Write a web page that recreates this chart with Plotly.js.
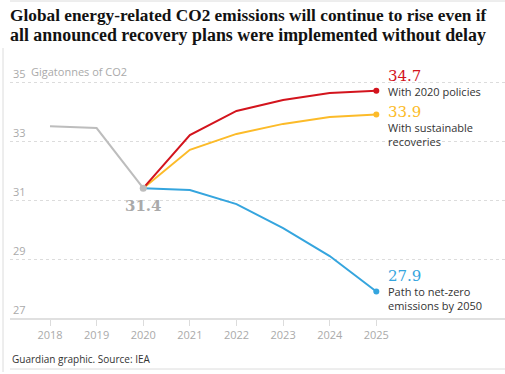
<!DOCTYPE html>
<html><head><meta charset="utf-8">
<script src="https://cdn.plot.ly/plotly-3.0.1.min.js"></script>
<style>html,body{margin:0;padding:0;background:#fff;}#chart{width:505px;height:374px;}</style>
</head><body><div id="chart"></div>
<script>
const historyYears = [2018, 2019, 2020];
const historyValues = [33.5, 33.44, 31.4];
const scenarioYears = [2020, 2021, 2022, 2023, 2024, 2025];
const policies2020 = [31.4, 33.2, 34.02, 34.39, 34.63, 34.7];
const sustainable = [31.4, 32.7, 33.24, 33.58, 33.81, 33.9];
const netZero = [31.4, 31.34, 30.86, 30.05, 29.1, 27.9];
const yTicks = [27, 29, 31, 33, 35];
const yTickText = ['27', '29', '31', '33', '35'];
const yUnit = 'Gigatonnes of CO2';
const xTicks = [2018, 2019, 2020, 2021, 2022, 2023, 2024, 2025];
const seriesLabels = ['With 2020 policies', 'With sustainable<br>recoveries', 'Path to net-zero<br>emissions by 2050'];
const titleLines = ['Global energy-related CO2 emissions will continue to rise even if',
                    'all announced recovery plans were implemented without delay'];

const RED = '#d3141d', YEL = '#fcbb29', BLU = '#35a5de', GRY = '#bdbdbd';
const last = a => a[a.length - 1];

const traces = [
  {x: historyYears, y: historyValues, mode: 'lines', line: {color: GRY, width: 2}},
  {x: scenarioYears, y: sustainable, mode: 'lines', line: {color: YEL, width: 2}},
  {x: scenarioYears, y: policies2020, mode: 'lines', line: {color: RED, width: 2}},
  {x: scenarioYears, y: netZero, mode: 'lines', line: {color: BLU, width: 2}},
  {x: [2025, 2025, 2025], y: [last(policies2020), last(sustainable), last(netZero)], mode: 'markers',
   marker: {color: [RED, YEL, BLU], size: 6}},
  {x: [last(historyYears)], y: [last(historyValues)], mode: 'markers', marker: {color: GRY, size: 7}}
];

// plot area: top 64px, bottom 318px -> height 254
const T = 64, B = 318, H = B - T;
const py = p => (B - p) / H; // pixel y -> paper y
const serif = 'DejaVu Serif';
function valueAnn(y, txt, color, ys) {
  return {x: 2025, y: y, xref: 'x', yref: 'y', text: txt, showarrow: false, xanchor: 'left', yanchor: 'middle',
          xshift: 10, yshift: ys, font: {family: serif, size: 15, color: color}};
}
function descAnn(y, txt, ys) {
  return {x: 2025, y: y, xref: 'x', yref: 'y', text: txt, showarrow: false, xanchor: 'left', yanchor: 'top',
          align: 'left', xshift: 10, yshift: ys, font: {family: 'Open Sans', size: 11, color: '#333'}};
}
function titleAnn(txt, p, size) {
  return {x: 0, y: py(p), xref: 'paper', yref: 'paper', text: '<b>' + txt + '</b>', showarrow: false,
          xanchor: 'left', yanchor: 'middle', xshift: -2, font: {family: 'Liberation Serif', size: size, color: '#121212'}};
}

const layout = {
  width: 505, height: 374,
  margin: {l: 10, r: 0, t: T, b: 374 - B},
  paper_bgcolor: '#fff', plot_bgcolor: '#fff',
  showlegend: false,
  xaxis: {range: [2017.142, 2027.76], tickvals: xTicks, showgrid: false, zeroline: false,
          showline: true, linecolor: '#e0e0e0', linewidth: 1.5, ticks: 'outside', ticklen: 6, tickcolor: '#dcdcdc',
          tickfont: {family: 'Open Sans', size: 11, color: '#aaa'}, fixedrange: true},
  yaxis: {range: [27, 27 + H / 29.5], tickvals: yTicks, ticktext: yTickText, ticklabelposition: 'inside top',
          showgrid: true, gridcolor: '#dcdcdc', griddash: 'dot', gridwidth: 1, zeroline: false, showline: false,
          tickfont: {family: 'Open Sans', size: 11, color: '#aaa'}, fixedrange: true},
  annotations: [
    titleAnn(titleLines[0], 16, 17.3), titleAnn(titleLines[1], 35, 17.9),
    {x: 0, y: 35, xref: 'paper', yref: 'y', text: yUnit, showarrow: false, xanchor: 'left', yanchor: 'bottom',
     xshift: 19, yshift: 1, font: {family: 'Open Sans', size: 11, color: '#aaa'}},
    {x: last(historyYears), y: last(historyValues), xref: 'x', yref: 'y', text: '<b>31.4</b>', showarrow: false,
     yshift: -18, font: {family: serif, size: 15, color: '#aaa'}},
    valueAnn(last(policies2020), '34.7', RED, 15), descAnn(last(policies2020), seriesLabels[0], 9),
    valueAnn(last(sustainable), '33.9', YEL, 2), descAnn(last(sustainable), seriesLabels[1], -4),
    valueAnn(last(netZero), '27.9', BLU, 15), descAnn(last(netZero), seriesLabels[2], 9),
    {x: 0, y: py(359), xref: 'paper', yref: 'paper', text: 'Guardian graphic. Source: IEA', showarrow: false,
     xanchor: 'left', yanchor: 'middle', font: {family: 'Open Sans', size: 10, color: '#333'}}
  ],
  shapes: [
    {type: 'line', xref: 'paper', yref: 'paper', x0: 0, x1: 1, y0: py(1), y1: py(1), line: {color: '#dcdcdc', width: 1}},
    {type: 'line', xref: 'paper', yref: 'paper', x0: -7 / 495, x1: -7 / 495, y0: py(372), y1: py(48), line: {color: '#dcdcdc', width: 1}},
    {type: 'line', xref: 'paper', yref: 'paper', x0: 0, x1: 1, y0: py(369), y1: py(369), line: {color: '#dcdcdc', width: 1}}
  ]
};
Plotly.newPlot('chart', traces, layout, {displayModeBar: false, staticPlot: true});
</script></body></html>
